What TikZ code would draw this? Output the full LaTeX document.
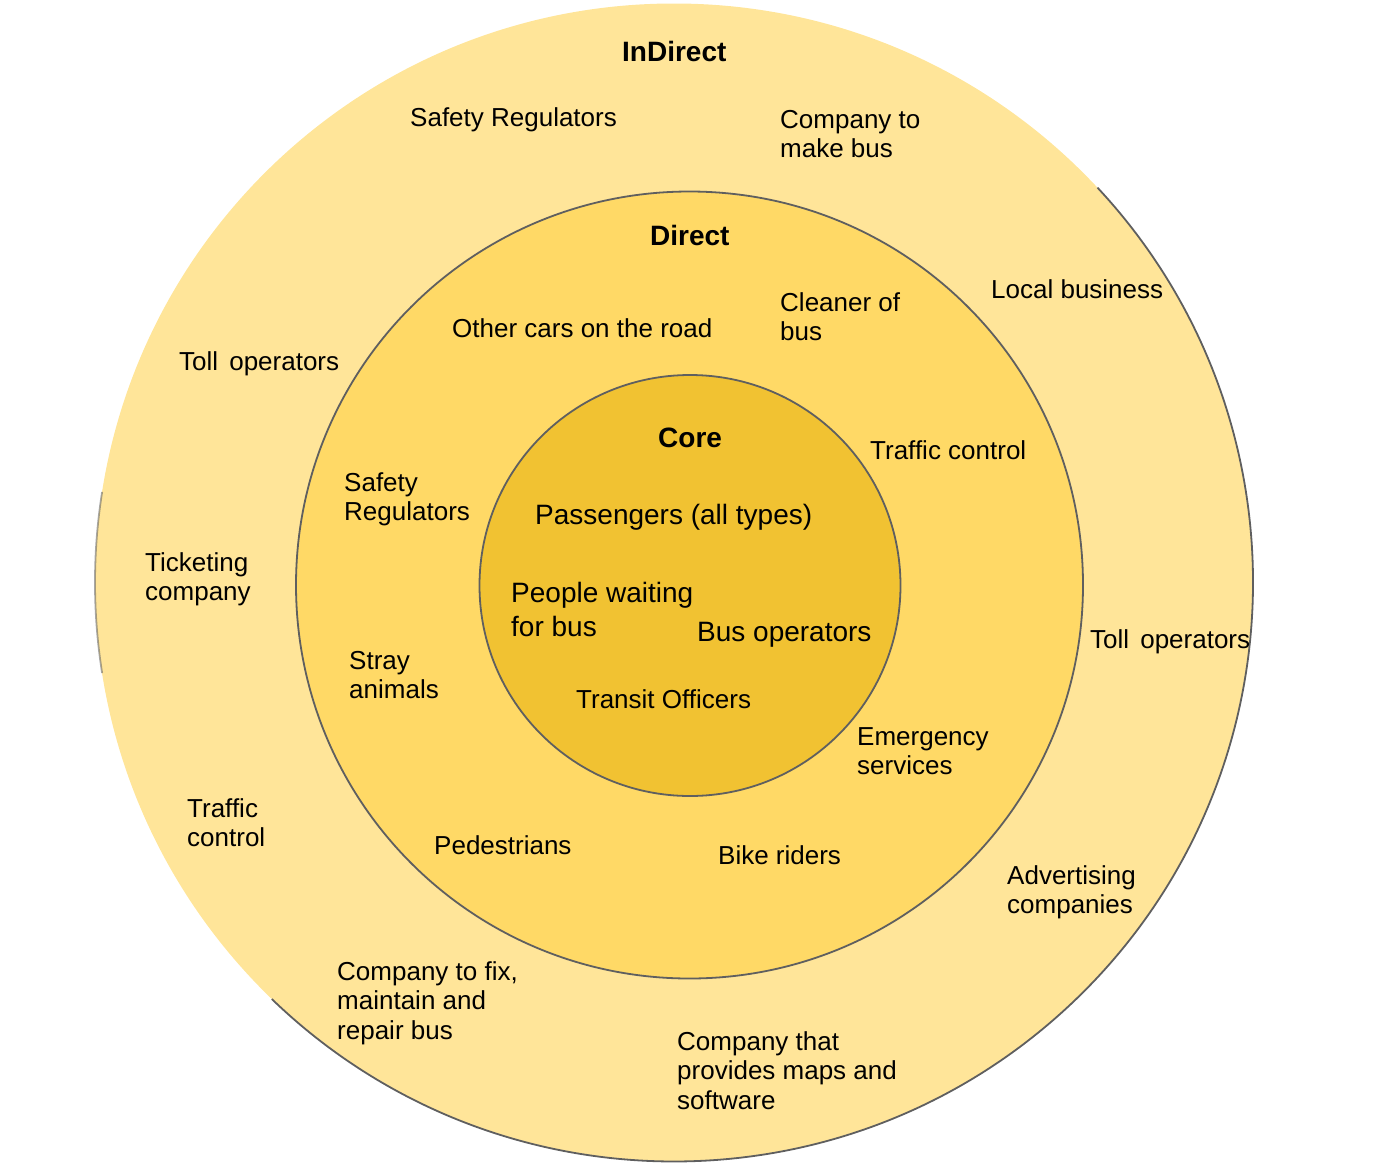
\documentclass[tikz,border=0pt]{standalone}
\usepackage{fontspec}
\setmainfont{Liberation Sans}
\definecolor{outerY}{HTML}{FFE599}
\definecolor{midY}{HTML}{FFD966}
\definecolor{coreY}{HTML}{F1C232}
\definecolor{ringline}{HTML}{5F5F5F}
\begin{document}
\begin{tikzpicture}[x=1pt,y=-1pt,
  lbl/.style={anchor=base west, inner sep=0pt, align=left, font=\fontsize{26}{29.5}\selectfont},
  corelbl/.style={lbl, font=\fontsize{28}{34}\selectfont},
  ttl/.style={lbl, font=\bfseries\fontsize{28}{32}\selectfont},
  ring/.style={draw=ringline, line width=1.8pt}]
\useasboundingbox (0,0) rectangle (1397,1170);
% rings
\node[circle, fill=outerY, inner sep=0pt, minimum size=1158pt] (indirectring) at (674,582.5) {};
\draw[ring] ([shift={(-43:579)}]indirectring.center) arc[start angle=-43, end angle=134, radius=579];
\draw[ring, draw opacity=0.55] ([shift={(171:579)}]indirectring.center) arc[start angle=171, end angle=189, radius=579];
\node[circle, fill=midY, ring, inner sep=0pt, minimum size=787pt] (directring) at (689.5,585) {};
\node[circle, fill=coreY, ring, inner sep=0pt, minimum size=421pt] (corering) at (690,585.5) {};
% titles
\node[ttl] (tIndirect) at (622,61) {InDirect};
\node[ttl] (tDirect) at (650,245) {Direct};
\node[ttl] (tCore) at (658,447) {Core};
% indirect ring (multi-line nodes are placed at the baseline of their last line)
\node[lbl] (iSafety) at (410,126) {Safety Regulators};
\node[lbl] (iMakeBus) at (780,157.5) {Company to\\make bus};
\node[lbl] (iLocal) at (991,298) {Local business};
\node[lbl] (iTollL) at (179,370) {Toll\hspace{0.15em} operators};
\node[lbl] (iTicket) at (145,600.5) {Ticketing\\company};
\node[lbl] (iTollR) at (1090,648) {Toll\hspace{0.15em} operators};
\node[lbl] (iTraffic) at (187,846.5) {Traffic\\control};
\node[lbl] (iAdvert) at (1007,913.5) {Advertising\\companies};
\node[lbl] (iFix) at (337,1039) {Company to fix,\\maintain and\\repair bus};
\node[lbl] (iMaps) at (677,1109) {Company that\\provides maps and\\software};
% direct ring
\node[lbl] (dCleaner) at (780,340.5) {Cleaner of\\bus};
\node[lbl] (dCars) at (452,337) {Other cars on the road};
\node[lbl] (dTraffic) at (870,459) {Traffic control};
\node[lbl] (dSafety) at (344,520.5) {Safety\\Regulators};
\node[lbl] (dStray) at (349,698.5) {Stray\\animals};
\node[lbl] (dEmerg) at (857,774.5) {Emergency\\services};
\node[lbl] (dPed) at (434,854) {Pedestrians};
\node[lbl] (dBike) at (718,864) {Bike riders};
% core
\node[corelbl] (cPass) at (535,524) {Passengers (all types)};
\node[corelbl] (cWait) at (511,636) {People waiting\\for bus};
\node[corelbl] (cBusOp) at (697,641) {Bus operators};
\node[lbl] (cTransit) at (576,708) {Transit Officers};
\end{tikzpicture}
\end{document}
